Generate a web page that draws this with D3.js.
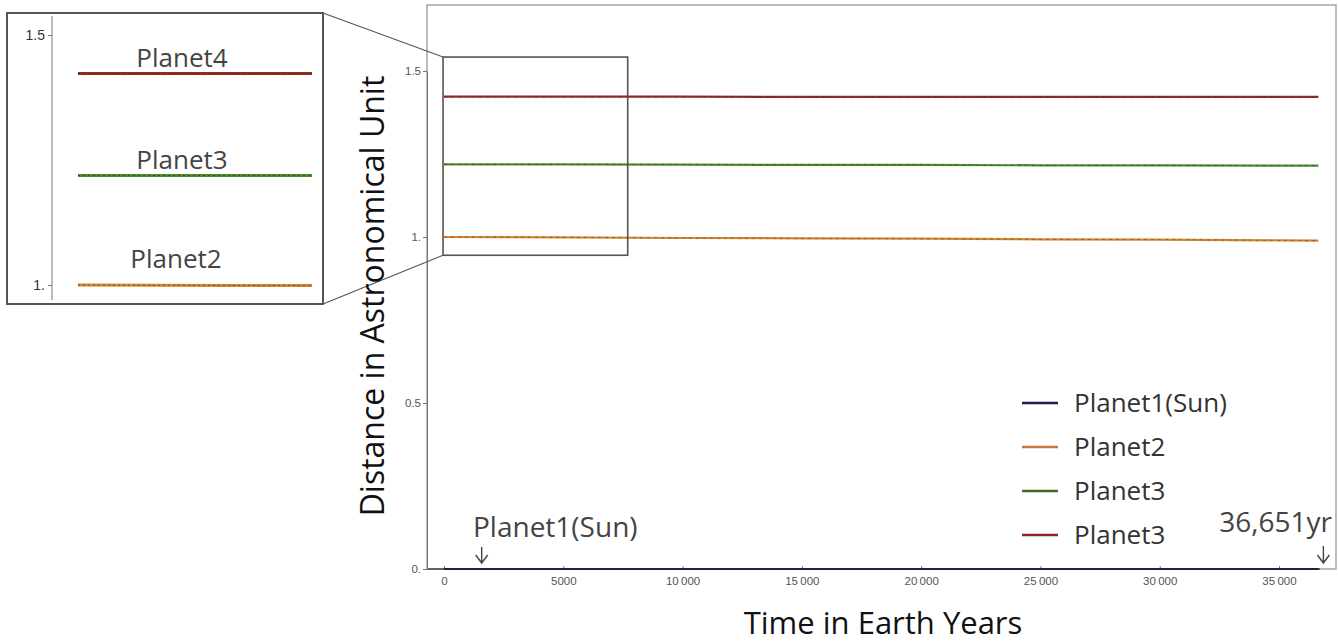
<!DOCTYPE html>
<html>
<head>
<meta charset="utf-8">
<script src="https://cdn.jsdelivr.net/npm/d3@7"></script>
<style>
  body { margin: 0; background: #fff; }
  svg { display: block; font-family: "Open Sans", sans-serif; }
  .tick text { font-family: "Liberation Sans", Arial, sans-serif; font-size: 11.5px; fill: #555; }
  .tick line { stroke: #777; }
</style>
</head>
<body>
<svg id="chart" width="1338" height="643"></svg>
<script>
// ── Data ───────────────────────────────────────────────────────────────────
const YEARS = [0, 5000, 10000, 15000, 20000, 25000, 30000, 35000, 36651];
const SUN = [0, 0, 0, 0, 0, 0, 0, 0, 0];
const PLANET2 = [1.000, 0.999, 0.997, 0.996, 0.995, 0.993, 0.992, 0.990, 0.989];
const PLANET3 = [1.219, 1.219, 1.218, 1.217, 1.217, 1.216, 1.216, 1.215, 1.215];
const PLANET4 = [1.423, 1.423, 1.423, 1.422, 1.422, 1.422, 1.422, 1.422, 1.422];

const SERIES = [
  { key: "sun", values: SUN, color: "#1c1f4f" },
  { key: "p2", values: PLANET2, color: "#d3852f" },
  { key: "p3", values: PLANET3, color: "#4d8a2a" },
  { key: "p4", values: PLANET4, color: "#962a22" },
];

const LEGEND_LABELS = ["Planet1(Sun)", "Planet2", "Planet3", "Planet3"];
const LEGEND_COLORS = ["#1c1f4f", "#c8763a", "#3d6b22", "#8e2424"];
const INSET_LABELS = [["p4", "Planet4"], ["p3", "Planet3"], ["p2", "Planet2"]];

const X_TICKS = [0, 5000, 10000, 15000, 20000, 25000, 30000, 35000];
const Y_TICKS = [0, 0.5, 1, 1.5];
const Y_TICK_LABELS = ["0.", "0.5", "1.", "1.5"];
const INSET_Y_TICKS = [1, 1.5];
const INSET_Y_LABELS = ["1.", "1.5"];

const ZOOM_X = [-40, 7700];   // zoom window in data units
const ZOOM_Y = [0.945, 1.542];
const SUN_MARK = 1580;
const END_YEAR = 36651;

const svg = d3.select("#chart");

// ── Scales ─────────────────────────────────────────────────────────────────
const x = d3.scaleLinear().domain([0, 35000]).range([444, 1279]);
const y = d3.scaleLinear().domain([0, 1.5]).range([569, 71]);

const rows = s => YEARS.map((yr, i) => ({ year: yr, v: s.values[i] }));

// frame
svg.append("rect")
  .attr("x", 427).attr("y", 5).attr("width", 909).attr("height", 564)
  .attr("fill", "none").attr("stroke", "#999").attr("stroke-width", 1.3);

// axes
const fmt = d => d >= 10000 ? d3.format(",")(d).replace(",", "\u2009") : String(d);
const xAxis = svg.append("g")
  .attr("transform", "translate(0,569)")
  .call(d3.axisBottom(x).tickValues(X_TICKS).tickFormat(fmt).tickSizeInner(-3).tickSizeOuter(0));
xAxis.select(".domain").attr("d", "M427,0H1320").attr("stroke", "#444").attr("stroke-width", 1.5);
xAxis.selectAll(".tick text").attr("y", 8).attr("dy", "0.71em");

const yAxis = svg.append("g")
  .attr("transform", "translate(427,0)")
  .call(d3.axisLeft(y).tickValues(Y_TICKS).tickFormat((d, i) => Y_TICK_LABELS[i]).tickSizeInner(4).tickSizeOuter(0));
yAxis.select(".domain").attr("stroke", "#777");
yAxis.selectAll(".tick text").attr("x", -6);

// ── Lines ──────────────────────────────────────────────────────────────────
const line = d3.line().x(d => x(d.year)).y(d => y(d.v));
SERIES.forEach(s => {
  svg.append("path")
    .datum(rows(s))
    .attr("fill", "none")
    .attr("stroke", s.color)
    .attr("stroke-width", 2.2)
    .attr("d", line);
  svg.append("path")
    .datum(rows(s))
    .attr("fill", "none")
    .attr("stroke", "#222")
    .attr("stroke-opacity", 0.45)
    .attr("stroke-width", 0.8)
    .attr("stroke-dasharray", "3,4")
    .attr("d", line);
});

// ── Zoom window + inset ────────────────────────────────────────────────────
const zx0 = x(ZOOM_X[0]), zx1 = x(ZOOM_X[1]);
const zy0 = y(ZOOM_Y[1]), zy1 = y(ZOOM_Y[0]);
svg.append("rect")
  .attr("x", zx0).attr("y", zy0).attr("width", zx1 - zx0).attr("height", zy1 - zy0)
  .attr("fill", "none").attr("stroke", "#555").attr("stroke-width", 1.6);

const inset = { x0: 7, y0: 13, x1: 323, y1: 304 };
svg.append("line")
  .attr("x1", inset.x1).attr("y1", inset.y0).attr("x2", zx0).attr("y2", zy0)
  .attr("stroke", "#555").attr("stroke-width", 1.1);
svg.append("line")
  .attr("x1", inset.x1).attr("y1", inset.y1).attr("x2", zx0).attr("y2", zy1)
  .attr("stroke", "#555").attr("stroke-width", 1.1);

svg.append("rect")
  .attr("x", inset.x0).attr("y", inset.y0)
  .attr("width", inset.x1 - inset.x0).attr("height", inset.y1 - inset.y0)
  .attr("fill", "#fff").attr("stroke", "#555").attr("stroke-width", 2);

const ix = d3.scaleLinear().domain([0, 7700]).range([78, 312]);
const iy = d3.scaleLinear().domain([1, 1.5]).range([285, 35]);

const iAxis = svg.append("g")
  .attr("transform", "translate(52,0)")
  .call(d3.axisLeft(iy).tickValues(INSET_Y_TICKS).tickFormat((d, i) => INSET_Y_LABELS[i]).tickSizeInner(4).tickSizeOuter(0));
iAxis.select(".domain").attr("d", "M0,16V300").attr("stroke", "#777");
iAxis.selectAll(".tick text").attr("x", -7).style("font-size", "14px").style("fill", "#333");

const iline = d3.line().x(d => ix(d.year)).y(d => iy(d.v));
SERIES.filter(s => s.key !== "sun").forEach(s => {
  const pts = rows(s).filter(d => d.year <= 7700);
  pts.push({ year: 7700, v: s.values[1] });
  svg.append("path").datum(pts)
    .attr("fill", "none").attr("stroke", s.color).attr("stroke-width", 3)
    .attr("d", iline);
  svg.append("path").datum(pts)
    .attr("fill", "none").attr("stroke", "#222").attr("stroke-opacity", 0.5)
    .attr("stroke-width", 1).attr("stroke-dasharray", "2,3")
    .attr("d", iline);
});

INSET_LABELS.forEach(([k, label]) => {
  const s = SERIES.find(d => d.key === k);
  svg.append("text")
    .attr("x", k === "p2" ? 176 : 182)
    .attr("y", iy(s.values[0]) - (k === "p2" ? 17 : 7))
    .attr("text-anchor", "middle")
    .attr("font-size", 26)
    .attr("fill", "#444")
    .text(label);
});

// ── Titles ─────────────────────────────────────────────────────────────────
svg.append("text")
  .attr("transform", "translate(384,296) rotate(-90)")
  .attr("text-anchor", "middle")
  .attr("font-size", 32)
  .attr("fill", "#111")
  .text("Distance in Astronomical Unit");

svg.append("text")
  .attr("x", 883).attr("y", 634)
  .attr("text-anchor", "middle")
  .attr("font-size", 31)
  .attr("fill", "#111")
  .text("Time in Earth Years");

// ── Legend ─────────────────────────────────────────────────────────────────
const legend = svg.append("g");
LEGEND_LABELS.forEach((label, i) => {
  const cy = 403 + i * 44;
  legend.append("line")
    .attr("x1", 1022).attr("x2", 1058).attr("y1", cy).attr("y2", cy)
    .attr("stroke", LEGEND_COLORS[i]).attr("stroke-width", 2.5);
  legend.append("text")
    .attr("x", 1074).attr("y", cy + 9)
    .attr("font-size", 26).attr("fill", "#333")
    .text(label);
});

// ── Annotations ────────────────────────────────────────────────────────────
function arrow(cx, top, bottom) {
  svg.append("path")
    .attr("d", `M${cx},${top}V${bottom}M${cx - 6},${bottom - 8}L${cx},${bottom}L${cx + 6},${bottom - 8}`)
    .attr("fill", "none").attr("stroke", "#444").attr("stroke-width", 1.4);
}

svg.append("text")
  .attr("x", 473).attr("y", 537)
  .attr("font-size", 28).attr("fill", "#444")
  .text("Planet1(Sun)");
arrow(x(SUN_MARK), 547, 563);

svg.append("text")
  .attr("x", 1332).attr("y", 532)
  .attr("text-anchor", "end")
  .attr("font-size", 28).attr("fill", "#444")
  .text("36,651yr");
arrow(x(END_YEAR) + 5, 546, 563);
</script>
</body>
</html>
